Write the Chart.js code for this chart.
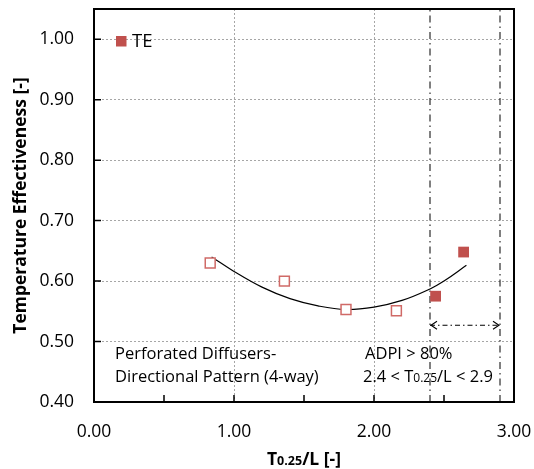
<!DOCTYPE html>
<html>
<head>
<meta charset="utf-8">
<script src="https://cdn.jsdelivr.net/npm/chart.js@4"></script>
<style>
  html, body { margin: 0; padding: 0; background: #fff; }
  #wrap { width: 534px; height: 469px; }
</style>
</head>
<body>
<div id="wrap"><canvas id="myChart" width="534" height="469"></canvas></div>
<script>
// measured points (T0.25/L vs temperature effectiveness)
const openX = [0.83, 1.36, 1.80, 2.16];
const openY = [0.630, 0.600, 0.553, 0.551];
const teX = [2.44, 2.64];
const teY = [0.575, 0.648];

// trend curve
const curveX = [0.84, 1.00, 1.20, 1.40, 1.60, 1.80, 2.00, 2.20, 2.40, 2.50, 2.66];
const curveY = [0.640, 0.616, 0.590, 0.571, 0.559, 0.553, 0.557, 0.568, 0.587, 0.600, 0.626];

// ADPI range markers
const rangeX = [2.4, 2.9];
const arrowY = 0.527;

const xTicks = [0, 1, 2, 3];
const yTicks = [0.4, 0.5, 0.6, 0.7, 0.8, 0.9, 1.0];
const xMinorTicks = [0.5, 1.0, 1.5, 2.0, 2.5];

const FONT = "'Open Sans', sans-serif";
const RED = '#C0504D';

function pts(xs, ys) {
    return xs.map((x, i) => ({ x: x, y: ys[i] }));
}

// no automatic label overflow padding, chart area is set by layout padding
function noPad(s) {
    s.paddingLeft = 0;
    s.paddingRight = 0;
    s.paddingTop = 0;
    s.paddingBottom = 0;
}

// frame, inward ticks, legend, notes, arrows, x title
const extras = {
    id: 'extras',
    afterDatasetsDraw(chart) {
        const ctx = chart.ctx;
        const a = chart.chartArea;
        const xs = chart.scales.x, ys = chart.scales.y;
        ctx.save();

        // arrow heads on the range arrow
        const meta = chart.getDatasetMeta(5);
        const p0 = meta.data[0], p1 = meta.data[1];
        ctx.strokeStyle = '#000';
        ctx.lineWidth = 1.1;
        ctx.setLineDash([]);
        ctx.beginPath();
        ctx.moveTo(p0.x + 7, p0.y - 4); ctx.lineTo(p0.x + 1, p0.y); ctx.lineTo(p0.x + 7, p0.y + 4);
        ctx.moveTo(p1.x - 7, p1.y - 4); ctx.lineTo(p1.x - 1, p1.y); ctx.lineTo(p1.x - 7, p1.y + 4);
        ctx.stroke();

        // inward ticks
        ctx.lineWidth = 1.5;
        ctx.beginPath();
        yTicks.forEach(v => {
            const y = ys.getPixelForValue(v);
            ctx.moveTo(a.left, y); ctx.lineTo(a.left + 7, y);
        });
        xMinorTicks.forEach(v => {
            const x = xs.getPixelForValue(v);
            ctx.moveTo(x, a.bottom); ctx.lineTo(x, a.bottom - 7);
        });
        ctx.stroke();

        // frame
        ctx.lineWidth = 2;
        ctx.strokeRect(a.left, a.top, a.right - a.left, a.bottom - a.top);

        // legend
        ctx.fillStyle = RED;
        ctx.fillRect(a.left + 22, a.top + 27, 10.5, 10.5);
        ctx.fillStyle = '#000';
        ctx.font = '18.5px ' + FONT;
        ctx.textBaseline = 'alphabetic';
        ctx.textAlign = 'left';
        ctx.fillText('TE', a.left + 38, a.top + 38);

        // notes
        ctx.font = '16.5px ' + FONT;
        ctx.fillText('Perforated Diffusers-', 115, 359);
        ctx.fillText('Directional Pattern (4-way)', 115, 382);
        ctx.fillText('ADPI > 80%', 365, 359);
        let x = 363;
        const parts = [['2.4 < T', 16.5], ['0.25', 12], ['/L < 2.9', 16.5]];
        parts.forEach(p => {
            ctx.font = p[1] + 'px ' + FONT;
            ctx.fillText(p[0], x, 382);
            x += ctx.measureText(p[0]).width;
        });

        // x axis title with small 0.25
        const tparts = [['T', 17.5], ['0.25', 12.5], ['/L [-]', 17.5]];
        let w = 0;
        tparts.forEach(p => {
            ctx.font = 'bold ' + p[1] + 'px ' + FONT;
            w += ctx.measureText(p[0]).width;
        });
        x = (a.left + a.right) / 2 - w / 2;
        tparts.forEach(p => {
            ctx.font = 'bold ' + p[1] + 'px ' + FONT;
            ctx.fillText(p[0], x, 465);
            x += ctx.measureText(p[0]).width;
        });
        ctx.restore();
    }
};

const ctx = document.getElementById('myChart').getContext('2d');
const myChart = new Chart(ctx, {
    type: 'scatter',
    data: {
        datasets: [
            {
                label: 'open',
                data: pts(openX, openY),
                pointStyle: 'rect',
                pointRadius: 7,
                pointBorderWidth: 1.5,
                borderColor: '#D06A67',
                backgroundColor: '#fff',
                order: 1
            },
            {
                label: 'TE',
                data: pts(teX, teY),
                pointStyle: 'rect',
                pointRadius: 7.6,
                pointBorderWidth: 0,
                borderColor: RED,
                backgroundColor: RED,
                order: 1
            },
            {
                label: 'trend',
                data: pts(curveX, curveY),
                showLine: true,
                pointRadius: 0,
                borderColor: '#000',
                borderWidth: 1.2,
                tension: 0.4,
                order: 2
            },
            {
                label: 'lo',
                data: [{ x: rangeX[0], y: 0.40 }, { x: rangeX[0], y: 1.05 }],
                showLine: true,
                pointRadius: 0,
                borderColor: '#000',
                borderWidth: 1,
                borderDash: [7, 4, 1.5, 4],
                order: 3
            },
            {
                label: 'hi',
                data: [{ x: rangeX[1], y: 0.40 }, { x: rangeX[1], y: 1.05 }],
                showLine: true,
                pointRadius: 0,
                borderColor: '#000',
                borderWidth: 1,
                borderDash: [7, 4, 1.5, 4],
                order: 3
            },
            {
                label: 'arrow',
                data: [{ x: rangeX[0], y: arrowY }, { x: rangeX[1], y: arrowY }],
                showLine: true,
                pointRadius: 0,
                borderColor: '#000',
                borderWidth: 1.1,
                borderDash: [5, 3, 1.5, 3],
                order: 3
            }
        ]
    },
    options: {
        responsive: false,
        animation: false,
        layout: { padding: { top: 9, right: 20, left: 0, bottom: 0 } },
        plugins: {
            legend: { display: false },
            tooltip: { enabled: false }
        },
        scales: {
            x: {
                type: 'linear',
                min: 0,
                max: 3,
                afterBuildTicks: s => { s.ticks = xTicks.map(v => ({ value: v })); },
                afterFit: s => { s.height = 67; noPad(s); },
                ticks: {
                    padding: 20,
                    color: '#000',
                    font: { family: FONT, size: 17.5 },
                    callback: v => v.toFixed(2)
                },
                grid: {
                    drawTicks: false,
                    color: c => (c.tick && (c.tick.value === 0 || c.tick.value === 3)) ? 'rgba(0,0,0,0)' : '#a6a6a6',
                    lineWidth: 1
                },
                border: { display: false, dash: [2, 2] }
            },
            y: {
                min: 0.40,
                max: 1.05,
                afterBuildTicks: s => { s.ticks = yTicks.map(v => ({ value: v })); },
                afterFit: s => { s.width = 94; noPad(s); },
                title: {
                    display: true,
                    text: 'Temperature Effectiveness [-]',
                    color: '#000',
                    font: { family: FONT, size: 17.5, weight: 'bold' },
                    padding: { top: 11, bottom: 0 }
                },
                ticks: {
                    padding: 20,
                    color: '#000',
                    font: { family: FONT, size: 17.5 },
                    callback: v => v.toFixed(2)
                },
                grid: {
                    drawTicks: false,
                    color: c => (c.tick && Math.abs(c.tick.value - 0.4) < 1e-6) ? 'rgba(0,0,0,0)' : '#a6a6a6',
                    lineWidth: 1
                },
                border: { display: false, dash: [2, 2] }
            }
        }
    },
    plugins: [extras]
});
</script>
</body>
</html>
